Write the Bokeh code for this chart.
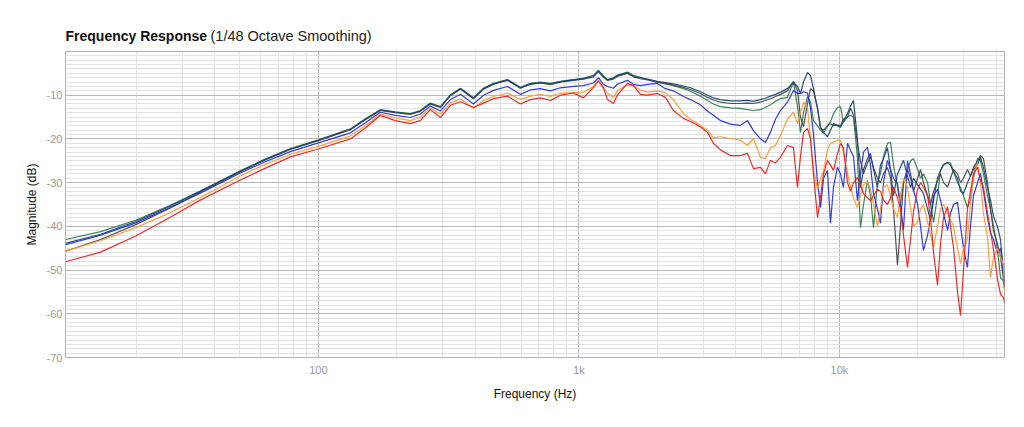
from bokeh.plotting import figure
from bokeh.models import Range1d, FixedTicker, Label
from bokeh.embed import file_html
from bokeh.resources import INLINE

# ---------------- data ----------------
FREQ = [
    10.7, 14.6, 19.9, 27.0, 35.2, 49.7, 61.5, 78.1, 100,
    132.7, 151.5, 172.9, 197.6, 225.4, 246.0, 269.0, 294.1, 321.3, 351.0,
    393.6, 430.4, 470.1, 532.0, 596.0, 651.0, 711.0, 777.5, 849.0, 953.0,
    1041, 1137, 1188, 1242, 1286, 1356, 1405, 1535, 1619, 1722,
    1833, 2001, 2148, 2305, 2518, 2680, 2927,
    3114, 3283, 3493, 3816, 4169, 4436, 4677,
    4975, 5200, 5433, 5680, 5935, 6314, 6658, 6900, 7086, 7278,
    7538, 7744, 7948, 8240, 8460, 8690, 8996, 9235, 9486, 9821,
    10090, 10350, 10740, 11020, 11320, 11720, 12040, 12370, 12810, 13150,
    13510, 13990,
    14370, 14760, 15280, 15700, 16120, 16700, 17140, 17610, 18240, 18740,
    19250, 19950, 20480, 21010, 21790, 22360, 22970, 23790, 24430, 25080,
    25990, 26690, 27410, 28390, 29150, 29930, 30990, 31830, 32680, 33870,
    34770, 35700, 37000, 37990, 39010, 40400, 41500, 42620, 43000,
]

NAVY = [
    -43.9, -41.8, -38.9, -35.4, -32.0, -27.5, -24.9, -22.3, -20.3,
    -17.8, -15.5, -13.4, -13.9, -14.3, -13.6, -11.9, -12.7, -10.0, -8.5,
    -10.7, -8.5, -7.4, -6.5, -8.3, -7.4, -7.1, -7.4, -6.9, -6.5,
    -6.2, -5.6, -4.4, -5.7, -6.5, -6.1, -5.5, -4.8, -5.6, -6.0,
    -6.3, -6.8, -7.1, -7.4, -7.9, -8.3, -9.2,
    -10.0, -10.6, -11.0, -11.3, -11.3, -11.2, -11.4,
    -11.0, -10.7, -10.2, -9.8, -9.3, -8.5, -7.0, -8.0, -9.6, -7.0,
    -4.8, -5.5, -8.5, -13.0, -17.4, -18.5, -19.5, -18.0, -16.5, -17.0,
    -17.4, -16.0, -14.2, -12.5, -11.2, -20.0, -31.1, -27.0, -24.5, -23.3,
    -27.0, -31.0,
    -26.0, -24.5, -22.0, -27.0, -33.0, -28.0, -26.5, -24.9, -28.5, -31.1,
    -29.0, -30.5, -31.5, -32.5, -36.0, -38.7, -34.0, -29.0, -27.2, -25.8,
    -25.4, -26.0, -27.5, -29.0, -32.0, -32.5, -30.0, -28.5, -27.0, -26.0,
    -24.2, -26.5, -31.1, -34.0, -37.7, -40.0, -43.0, -50.8, -53.0,
]

GRAY = [
    -45.7, -43.0, -39.6, -35.8, -32.2, -27.6, -25.0, -22.4, -20.4,
    -17.9, -15.6, -13.5, -14.0, -14.4, -13.7, -12.0, -12.8, -10.1, -8.6,
    -10.8, -8.6, -7.5, -6.6, -8.4, -7.5, -7.2, -7.6, -7.0, -6.6,
    -6.3, -5.8, -4.6, -5.9, -6.6, -6.3, -5.7, -5.0, -5.8, -6.2,
    -6.5, -7.0, -7.3, -7.7, -8.2, -8.7, -9.6,
    -10.5, -11.1, -11.6, -11.9, -11.9, -11.8, -11.9,
    -11.6, -11.2, -10.8, -10.3, -9.8, -9.0, -6.8, -9.0, -15.0, -17.2,
    -12.0, -8.5, -9.0, -13.0, -17.5, -18.0, -17.0, -16.5, -17.0, -16.8,
    -17.0, -15.5, -15.0, -13.0, -14.5, -21.0, -25.0, -28.0, -25.5, -24.0,
    -26.5, -29.0,
    -30.0, -28.0, -26.5, -29.0, -36.0, -48.9, -40.0, -30.0, -27.0, -29.0,
    -32.0, -29.0, -27.0, -30.0, -33.0, -35.0, -32.0, -29.5, -28.0, -30.0,
    -31.0, -29.0, -27.0, -28.0, -30.0, -29.0, -27.0, -28.5, -26.5, -25.0,
    -23.8, -24.5, -30.0, -36.0, -41.0, -44.0, -47.0, -52.0, -54.0,
]

GREEN = [
    -43.0, -41.2, -38.6, -35.2, -31.9, -27.4, -24.8, -22.2, -20.2,
    -17.7, -15.4, -13.3, -13.8, -14.2, -13.5, -11.8, -12.6, -9.9, -8.4,
    -10.6, -8.4, -7.3, -6.4, -8.2, -7.3, -7.0, -7.3, -6.8, -6.4,
    -6.1, -5.5, -4.3, -5.6, -6.4, -6.0, -5.4, -4.7, -5.5, -5.9,
    -6.4, -7.0, -7.4, -7.8, -8.5, -9.1, -10.2,
    -11.2, -12.0, -12.6, -12.9, -13.0, -13.3, -13.5,
    -13.3, -12.8, -12.2, -11.4, -10.8, -10.5, -7.0, -12.5, -18.5, -14.0,
    -10.3, -11.5, -15.8, -17.0, -18.0, -18.7, -17.0, -16.1, -14.2, -12.8,
    -12.6, -16.2, -15.0, -14.6, -15.0, -24.2, -40.3, -35.0, -29.5, -33.0,
    -40.3, -30.0,
    -27.9, -24.0, -21.0, -20.8, -26.0, -31.0, -34.8, -30.0, -27.0, -25.0,
    -24.5, -27.0, -29.0, -28.0, -30.0, -35.0, -39.1, -33.0, -27.2, -26.0,
    -25.4, -25.5, -27.5, -30.0, -31.1, -33.0, -35.7, -34.0, -29.0, -24.5,
    -25.0, -28.0, -33.0, -36.0, -40.0, -45.0, -51.7, -52.5, -54.0,
]

BLUE = [
    -44.2, -42.0, -39.2, -35.7, -32.4, -27.9, -25.4, -22.9, -20.9,
    -18.6, -16.3, -13.9, -14.6, -15.1, -14.3, -12.5, -13.6, -11.0, -9.8,
    -12.0, -10.0, -8.9, -8.0, -9.8, -8.8, -8.5, -9.0, -8.3, -8.0,
    -7.8, -7.2, -6.0, -7.5, -8.0, -8.4, -7.5, -6.6, -7.5, -7.8,
    -7.5, -7.3, -8.5, -9.0, -10.3, -11.0, -12.2,
    -13.6, -14.6, -15.8, -16.6, -16.9, -15.8, -18.1,
    -20.0, -20.8, -18.5, -15.5, -13.5, -11.6, -8.9, -9.6, -9.6, -9.2,
    -9.5, -13.0, -19.0, -30.0, -35.7, -29.0, -27.2, -39.3, -31.0, -26.5,
    -28.0, -31.1, -21.0, -22.6, -24.0, -34.1, -28.0, -23.0, -21.9, -26.0,
    -32.5, -36.0,
    -39.3, -30.0, -24.9, -27.0, -29.0, -30.2, -35.0, -40.9, -25.0, -28.0,
    -31.8, -35.0, -40.0, -45.5, -42.0, -38.0, -33.0, -31.5, -34.0, -37.0,
    -40.9, -37.0, -35.0, -34.5, -40.0, -45.0, -49.4, -40.0, -33.0, -30.0,
    -27.9, -32.0, -38.0, -41.5, -43.0, -46.2, -45.0, -50.0, -53.0,
]

ORANGE = [
    -45.6, -43.3, -40.3, -36.9, -33.4, -28.6, -26.0, -23.5, -21.7,
    -19.3, -17.0, -14.3, -15.2, -15.8, -15.0, -13.0, -14.3, -11.8, -10.8,
    -13.0, -11.2, -10.3, -9.5, -11.0, -10.2, -9.8, -10.3, -9.5, -9.4,
    -9.3, -8.0, -6.6, -8.5, -9.5, -10.5, -9.0, -7.6, -7.8, -8.8,
    -9.3, -9.0, -9.4, -11.0, -14.2, -15.5, -16.9,
    -18.0, -19.7, -19.5, -19.9, -20.3, -21.5, -19.9,
    -24.2, -24.5, -22.0, -21.5, -19.2, -15.5, -13.9, -16.5, -14.0, -11.6,
    -12.8, -20.0, -27.0, -31.5, -29.0, -27.2, -22.5, -21.0, -20.7, -20.3,
    -20.3, -23.0, -27.9, -31.0, -33.5, -35.7, -33.0, -30.5, -29.8, -31.5,
    -35.0, -40.0,
    -36.0, -31.0, -30.5, -33.0, -36.0, -38.0, -33.0, -29.0, -31.0, -36.0,
    -40.0, -39.0, -36.0, -35.0, -39.0, -42.0, -44.8, -40.0, -36.0, -35.0,
    -37.0, -38.5, -40.0, -45.0, -48.5, -45.0, -43.0, -35.0, -28.0, -25.6,
    -30.0, -37.0, -42.5, -51.7, -47.0, -45.0, -47.0, -49.0, -55.0,
]

RED = [
    -48.1, -45.9, -42.2, -37.9, -34.0, -29.5, -26.9, -24.1, -22.3,
    -20.0, -17.5, -14.6, -15.8, -16.5, -15.8, -13.3, -15.1, -12.3, -11.5,
    -12.8, -11.8, -10.8, -10.2, -12.0, -11.0, -10.6, -11.2, -10.0, -9.5,
    -10.6, -8.2, -6.8, -8.2, -11.0, -11.9, -10.0, -7.3, -7.8, -9.8,
    -10.0, -9.6, -10.5, -13.5, -15.3, -16.0, -17.2,
    -18.5, -21.0, -22.5, -23.8, -23.8, -23.3, -26.8,
    -26.5, -28.0, -24.9, -25.5, -24.2, -21.5, -22.0, -31.1, -24.0, -18.5,
    -17.6, -20.0, -28.0, -38.0, -33.0, -28.0, -24.9, -26.0, -27.2, -23.5,
    -21.0, -22.0, -30.0, -32.0, -30.0, -28.8, -30.5, -32.5, -33.5, -34.1,
    -33.0, -31.5,
    -32.0, -34.0, -35.0, -33.6, -31.0, -33.5, -36.0, -42.0, -49.4, -43.0,
    -36.5, -31.5, -30.0, -31.0, -33.0, -38.0, -46.0, -53.5, -44.0, -38.0,
    -35.5, -40.0, -45.0, -55.0, -60.4, -50.0, -36.0, -32.0, -28.0, -26.5,
    -29.5, -31.0, -37.0, -41.0, -45.2, -52.0, -55.5, -56.3, -57.5,
]

SERIES = [
    ("green", GREEN, "#2f7d4f"),
    ("gray", GRAY, "#484848"),
    ("navy", NAVY, "#1f4470"),
    ("blue", BLUE, "#2630e0"),
    ("orange", ORANGE, "#ff9a30"),
    ("red", RED, "#ee2020"),
]

X_MAJOR = [100, 1000, 10000]
X_MAJOR_LABELS = ["100", "1k", "10k"]
X_MINOR = [20, 30, 40, 50, 60, 70, 80, 90,
           200, 300, 400, 500, 600, 700, 800, 900,
           2000, 3000, 4000, 5000, 6000, 7000, 8000, 9000,
           20000, 30000, 40000]
Y_MAJOR = [-70, -60, -50, -40, -30, -20, -10]
Y_MAJOR_LABELS = ["-70", "-60", "-50", "-40", "-30", "-20", "-10"]
Y_MINOR = [-70, -69, -68, -67, -66, -65, -64, -63, -62, -61,
           -60, -59, -58, -57, -56, -55, -54, -53, -52, -51,
           -50, -49, -48, -47, -46, -45, -44, -43, -42, -41,
           -40, -39, -38, -37, -36, -35, -34, -33, -32, -31,
           -30, -29, -28, -27, -26, -25, -24, -23, -22, -21,
           -20, -19, -18, -17, -16, -15, -14, -13, -12, -11,
           -10, -9, -8, -7, -6, -5, -4, -3, -2, -1, 0]

X_START, X_END = 10.7, 43000
Y_START, Y_END = -70, 0

FONT = "Liberation Sans"

# ---------------- figure ----------------
p = figure(width=1016, height=419, x_axis_type="log",
           x_range=Range1d(X_START, X_END), y_range=Range1d(Y_START, Y_END),
           output_backend="svg", toolbar_location=None,
           min_border_left=65, min_border_right=12,
           min_border_top=51, min_border_bottom=62)

p.background_fill_color = "white"
p.border_fill_color = "white"
p.outline_line_color = "#b0b0b0"
p.outline_line_width = 1

p.xaxis.ticker = FixedTicker(ticks=X_MAJOR, minor_ticks=X_MINOR)
p.yaxis.ticker = FixedTicker(ticks=Y_MAJOR, minor_ticks=Y_MINOR)
p.xaxis.major_label_overrides = {t: l for t, l in zip(X_MAJOR, X_MAJOR_LABELS)}
p.yaxis.major_label_overrides = {t: l for t, l in zip(Y_MAJOR, Y_MAJOR_LABELS)}

for ax in (p.xaxis, p.yaxis):
    ax.axis_line_color = None
    ax.major_tick_line_color = None
    ax.minor_tick_line_color = None
    ax.major_tick_out = 0
    ax.major_tick_in = 0
    ax.minor_tick_out = 0
    ax.minor_tick_in = 0
    ax.major_label_text_font = FONT
    ax.major_label_text_font_size = "11px"
    ax.major_label_text_color = "#9a9a9a"
    ax.axis_label_text_font = FONT
    ax.axis_label_text_font_size = "12px"
    ax.axis_label_text_font_style = "normal"
    ax.axis_label_text_color = "#111111"

p.xaxis.axis_label = "Frequency (Hz)"
p.yaxis.axis_label = "Magnitude (dB)"
p.xaxis.major_label_standoff = 6
p.yaxis.major_label_standoff = 3
p.xaxis.axis_label_standoff = 8
p.yaxis.axis_label_standoff = 5

for g in (p.xgrid, p.ygrid):
    g.grid_line_color = "#b8b8b8"
    g.grid_line_width = 1
    g.minor_grid_line_color = "#e2e2e2"
    g.minor_grid_line_width = 1

for name, vals, col in SERIES:
    p.line(FREQ, vals, line_color=col, line_width=1.2, line_alpha=0.95)

# title, split in two weights, placed in the "above" side panel
p.add_layout(Label(x=X_START, y=Y_END, x_units="data", y_units="data",
                   y_offset=16, text="Frequency Response",
                   text_font=FONT, text_font_style="bold",
                   text_font_size="14px", text_color="#111111",
                   text_baseline="alphabetic", text_align="left"), "above")
p.add_layout(Label(x=X_START, y=Y_END, x_units="data", y_units="data",
                   x_offset=145, y_offset=16, text="(1/48 Octave Smoothing)",
                   text_font=FONT, text_font_style="normal",
                   text_font_size="14.5px", text_color="#222222",
                   text_baseline="alphabetic", text_align="left"), "above")

open("out.html", "w").write(file_html(p, INLINE))
